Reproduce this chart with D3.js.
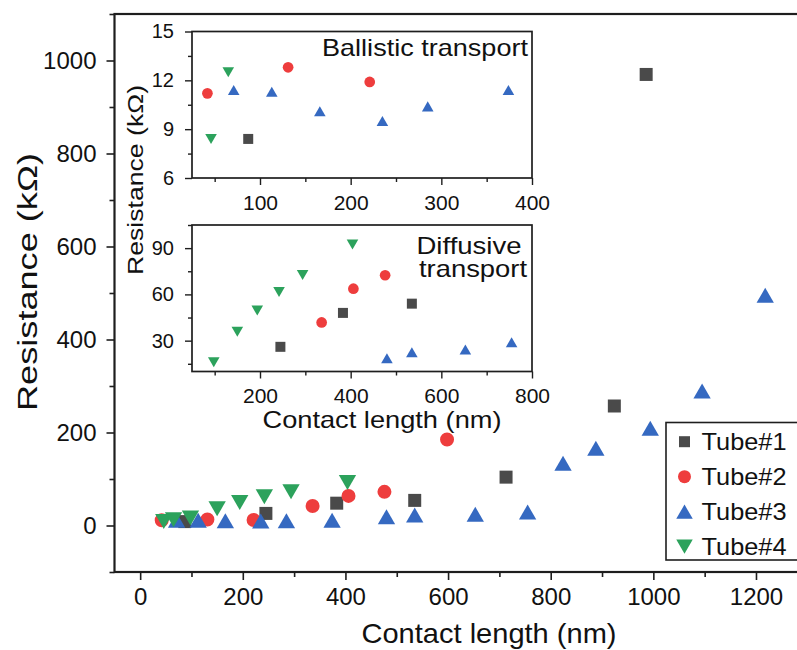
<!DOCTYPE html>
<html>
<head>
<meta charset="utf-8">
<script src="https://cdn.jsdelivr.net/npm/d3@7"></script>
<style>
  body { margin: 0; background: #fff; }
  svg { display: block; }
  text { font-family: "Liberation Sans", Arial, Helvetica, sans-serif; fill: #111; }
</style>
</head>
<body>
<svg id="chart" width="797" height="650"></svg>
<script>
// ---- data: contact length (nm) vs resistance (kΩ) for four tubes ----
const seriesNames = ["Tube#1", "Tube#2", "Tube#3", "Tube#4"];
const tube1Length     = [87, 245, 383, 535, 713, 924, 986];
const tube1Resistance = [8.4, 26, 48, 54, 104, 257, 970];
const tube2Length     = [42, 131, 221, 336, 406, 476, 598];
const tube2Resistance = [11.2, 12.8, 11.9, 41.8, 63.7, 72.4, 185];
const tube3Length     = [71, 113, 166, 235, 285, 374, 480, 535, 653, 755, 824, 888, 994, 1095, 1218];
const tube3Resistance = [11.4, 11.3, 10.1, 9.5, 10.4, 11.4, 18.6, 22.5, 24.2, 28.9, 134, 166, 209, 289, 495];
const tube4Length     = [46, 65, 98, 150, 194, 242, 294, 404];
const tube4Resistance = [8.4, 12.5, 16, 35.8, 49.5, 61.6, 72.6, 92.4];

// tick labels
const mainXTicks = [0, 200, 400, 600, 800, 1000, 1200];
const mainYTicks = [0, 200, 400, 600, 800, 1000];
const ballisticXTicks = [100, 200, 300, 400];
const ballisticYTicks = [6, 9, 12, 15];
const diffusiveXTicks = [200, 400, 600, 800];
const diffusiveYTicks = [30, 60, 90];

const colors  = ["#4a4a4a", "#ee3d3d", "#3569c1", "#2ca25c"];
const plain = d3.format("d");

const series = seriesNames.map((name, i) => {
  const L = [tube1Length, tube2Length, tube3Length, tube4Length][i];
  const R = [tube1Resistance, tube2Resistance, tube3Resistance, tube4Resistance][i];
  return { name, i, points: L.map((l, k) => ({ l, r: R[k] })) };
});

// triangle symbols centred on their bounding box
const triUp = { draw(ctx, size) {
  const s = Math.sqrt(size * 4 / Math.sqrt(3)), h = s * Math.sqrt(3) / 2;
  ctx.moveTo(0, -h / 2); ctx.lineTo(s / 2, h / 2); ctx.lineTo(-s / 2, h / 2); ctx.closePath();
}};
const triDown = { draw(ctx, size) {
  const s = Math.sqrt(size * 4 / Math.sqrt(3)), h = s * Math.sqrt(3) / 2;
  ctx.moveTo(0, h / 2); ctx.lineTo(s / 2, -h / 2); ctx.lineTo(-s / 2, -h / 2); ctx.closePath();
}};
const symbolTypes = [d3.symbolSquare, d3.symbolCircle, triUp, triDown];
const mainSizes   = [169, 154, 130, 130];
const insetSizes  = [100, 90, 58, 58];
const legendSizes = [121, 133, 118, 118];

const svg = d3.select("#chart");
const ink = "#1e1e1e";

function styleAxis(g, sw) {
  g.select(".domain").remove();
  g.selectAll(".tick line").attr("stroke", ink).attr("stroke-width", sw);
}

// ---- main panel ----
const x = d3.scaleLinear().domain([-50, 1300]).range([114.5, 807.3]);
const y = d3.scaleLinear().domain([-100, 1100]).range([572, 14]);

const gMain = svg.append("g");
gMain.append("g").attr("transform", `translate(0,${y(-100)})`)
  .call(d3.axisBottom(x).tickValues(d3.range(100, 1300, 200)).tickSize(5).tickFormat(""))
  .call(g => styleAxis(g, 1.6));
gMain.append("g").attr("transform", `translate(0,${y(-100)})`)
  .call(d3.axisBottom(x).tickValues(mainXTicks).tickSize(8).tickPadding(8).tickFormat(plain))
  .call(g => styleAxis(g, 1.6))
  .call(g => g.selectAll("text").attr("font-size", 24).attr("fill", "#111"));
gMain.append("g").attr("transform", `translate(${x(-50)},0)`)
  .call(d3.axisLeft(y).tickValues(d3.range(-100, 1200, 200)).tickSize(5).tickFormat(""))
  .call(g => styleAxis(g, 1.6));
gMain.append("g").attr("transform", `translate(${x(-50)},0)`)
  .call(d3.axisLeft(y).tickValues(mainYTicks).tickSize(8).tickPadding(10).tickFormat(plain))
  .call(g => styleAxis(g, 1.6))
  .call(g => g.selectAll("text").attr("font-size", 24).attr("fill", "#111"));

gMain.append("rect")
  .attr("x", x(-50)).attr("y", y(1100))
  .attr("width", x(1300) - x(-50)).attr("height", y(-100) - y(1100))
  .attr("fill", "none").attr("stroke", ink).attr("stroke-width", 2.2);

gMain.append("text").attr("x", 489).attr("y", 643).attr("text-anchor", "middle")
  .attr("font-size", 28).attr("textLength", 255).attr("lengthAdjust", "spacingAndGlyphs")
  .text("Contact length (nm)");
gMain.append("text").attr("transform", "translate(37,282) rotate(-90)").attr("text-anchor", "middle")
  .attr("font-size", 27).attr("textLength", 258).attr("lengthAdjust", "spacingAndGlyphs")
  .text("Resistance (kΩ)");

series.forEach(s => {
  gMain.append("g").selectAll("path").data(s.points).join("path")
    .attr("transform", d => `translate(${x(d.l)},${y(d.r)})`)
    .attr("d", d3.symbol().type(symbolTypes[s.i]).size(mainSizes[s.i]))
    .attr("fill", colors[s.i]);
});

// ---- legend ----
const gLeg = svg.append("g");
gLeg.append("rect").attr("x", 666).attr("y", 422.5).attr("width", 160).attr("height", 137.5)
  .attr("fill", "#fff").attr("stroke", ink).attr("stroke-width", 1.6);
seriesNames.forEach((name, i) => {
  const cy = 441.7 + i * 35;
  gLeg.append("path").attr("transform", `translate(684.5,${cy})`)
    .attr("d", d3.symbol().type(symbolTypes[i]).size(legendSizes[i])).attr("fill", colors[i]);
  gLeg.append("text").attr("x", 701.5).attr("y", cy + 8.6).attr("font-size", 24)
    .attr("textLength", 85).attr("lengthAdjust", "spacingAndGlyphs").text(name);
});

// ---- inset panels ----
function inset(cfg) {
  const g = svg.append("g");
  const ix = d3.scaleLinear().domain(cfg.xDomain).range([192, 532]);
  const iy = d3.scaleLinear().domain(cfg.yDomain).range([cfg.bottom, cfg.top]);
  g.append("rect").attr("x", 192).attr("y", cfg.top).attr("width", 340)
    .attr("height", cfg.bottom - cfg.top).attr("fill", "#fff");
  g.append("g").attr("transform", `translate(0,${cfg.bottom})`)
    .call(d3.axisBottom(ix).tickValues(cfg.xMinor).tickSize(4).tickFormat(""))
    .call(a => styleAxis(a, 1.4));
  g.append("g").attr("transform", `translate(0,${cfg.bottom})`)
    .call(d3.axisBottom(ix).tickValues(cfg.xTicks).tickSize(7).tickPadding(10).tickFormat(plain))
    .call(a => styleAxis(a, 1.4))
    .call(a => a.selectAll("text").attr("font-size", 21).attr("fill", "#111"));
  g.append("g").attr("transform", "translate(192,0)")
    .call(d3.axisLeft(iy).tickValues(cfg.yMinor).tickSize(4).tickFormat(""))
    .call(a => styleAxis(a, 1.4));
  g.append("g").attr("transform", "translate(192,0)")
    .call(d3.axisLeft(iy).tickValues(cfg.yTicks).tickSize(7).tickPadding(11).tickFormat(plain))
    .call(a => styleAxis(a, 1.4))
    .call(a => a.selectAll("text").attr("font-size", 20).attr("fill", "#111"));
  g.append("rect").attr("x", 192).attr("y", cfg.top).attr("width", 340)
    .attr("height", cfg.bottom - cfg.top).attr("fill", "none")
    .attr("stroke", ink).attr("stroke-width", 1.7);
  series.forEach(s => {
    g.append("g").selectAll("path").data(s.points.filter(cfg.keep)).join("path")
      .attr("transform", d => `translate(${ix(d.l)},${iy(d.r)})`)
      .attr("d", d3.symbol().type(symbolTypes[s.i]).size(insetSizes[s.i]))
      .attr("fill", colors[s.i]);
  });
  cfg.titles.forEach(t => {
    g.append("text").attr("x", t.x).attr("y", t.y).attr("text-anchor", "middle")
      .attr("font-size", 24).attr("textLength", t.len).attr("lengthAdjust", "spacingAndGlyphs")
      .text(t.text);
  });
}

inset({
  xDomain: [25, 400], yDomain: [6, 15], top: 31.5, bottom: 178,
  xTicks: ballisticXTicks, xMinor: [50, 150, 250, 350],
  yTicks: ballisticYTicks, yMinor: [7.5, 10.5, 13.5],
  keep: d => d.r < 15,
  titles: [{ text: "Ballistic transport", x: 425, y: 56, len: 206 }]
});
inset({
  xDomain: [50, 800], yDomain: [10, 105], top: 225, bottom: 371.5,
  xTicks: diffusiveXTicks, xMinor: [100, 300, 500, 700],
  yTicks: diffusiveYTicks, yMinor: [15, 45, 75, 105],
  keep: d => d.r >= 15 && d.r <= 100 && d.l <= 800,
  titles: [{ text: "Diffusive", x: 469, y: 253.5, len: 105 },
           { text: "transport", x: 473, y: 277, len: 108 }]
});

svg.append("text").attr("x", 382).attr("y", 428).attr("text-anchor", "middle")
  .attr("font-size", 24).attr("textLength", 239).attr("lengthAdjust", "spacingAndGlyphs")
  .text("Contact length (nm)");
svg.append("text").attr("transform", "translate(143,180) rotate(-90)").attr("text-anchor", "middle")
  .attr("font-size", 22).attr("textLength", 190).attr("lengthAdjust", "spacingAndGlyphs")
  .text("Resistance (kΩ)");
</script>
</body>
</html>
